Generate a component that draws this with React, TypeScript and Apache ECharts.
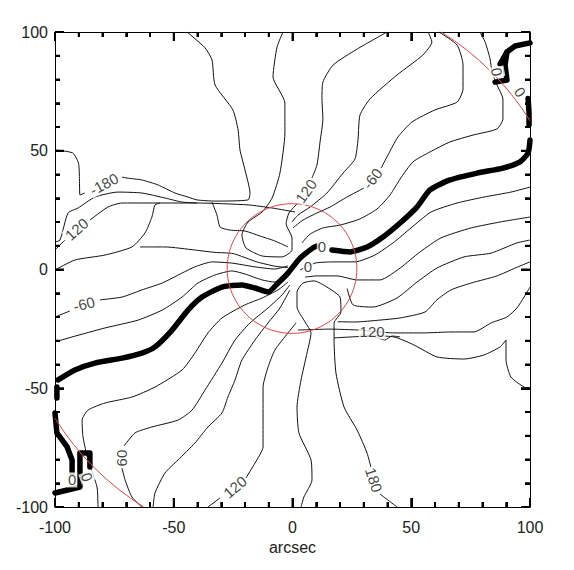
import React, { useEffect, useRef } from 'react';
import * as echarts from 'echarts';

// ---- axes ----
const AXIS_MIN = -100;
const AXIS_MAX = 100;
const AXIS_STEP = 50;
const MINOR_STEP = 10;
const AXIS_NAME = 'arcsec';

// ---- thick zero-level contour pieces (arcsec) ----
const zeroLeft = [[-98.7,-46.5],[-91.6,-42.3],[-83.2,-39.4],[-71.8,-37.3],[-63.4,-35.2],[-57.9,-32.6],[-50.7,-25.5],[-44,-17.1],[-38.1,-11.6],[-29.7,-7.4],[-21.3,-6.5],[-15.8,-7.8],[-10.3,-9.5],[-6.1,-5.7],[-1.9,-1.5],[3.2,4.8],[8.6,9.1],[10.3,9.9]];
const zeroRight = [[16.6,8.2],[24.2,7.4],[31.4,9.5],[38.1,13.7],[45.3,19.6],[52.4,26.3],[57.9,33.5],[66.3,37.7],[77.7,40.6],[88.6,42.7],[95.8,45.3],[99.2,49.1],[100,54.5]];
const zeroNE1 = [[100,95.4],[93.7,94.1],[90.3,91.6],[89.5,86.1],[90.3,79.8],[85.3,78.9]];
const zeroNE2 = [[90.3,91.6],[87.4,86.5]];
const zeroNE3 = [[99.2,72],[99.6,66],[99.6,61]];
const zeroSW1 = [[-100,-60.4],[-99.2,-68.8],[-94.9,-74.7],[-92.8,-80.2],[-92.8,-85.7]];
const zeroSW2 = [[-100,-94.1],[-89.5,-91.6],[-89.5,-77.3],[-85.3,-77.3],[-85.3,-83.2]];
const zeroW = [[-99.2,-49.5],[-99.2,-54.1]];

// ---- thin contours (arcsec) ----
const c180a = [[-100,50.3],[-92.6,49.1],[-90.1,44.8],[-89.7,37.7],[-89.5,31.4],[-87.5,32.2]];
const c180b = [[-71.8,38.9],[-69.7,38.5],[-63.4,37.7],[-56.6,35.6],[-49.5,32.2],[-44,30.5],[-40.2,29.3],[-32.6,28.8],[-18.7,29.3],[-17.9,32.2],[-20,41.9],[-22.1,50.3],[-22.9,58.7],[-25.1,67.2],[-32.6,77.7],[-33.9,88.2],[-36.8,93.3],[-44.4,100]];
const c150 = [[-100,11.6],[-97.9,12.4],[-94.5,23.8],[-90.3,25.9],[-83.2,30.5],[-73.5,32.6],[-63.4,32.2],[-53.7,30.1],[-46.5,28.4],[-40.2,28]];
const c120a = [[-100,8.2],[-95.8,12.4]];
const c120b = [[-85.3,20.8],[-77.7,26.3],[-71.8,28],[-60.8,28],[-40.2,28],[-18.7,27.2],[-8.6,25.9],[1.1,24.2]];
const c90 = [[-100,-0.2],[-91.6,4],[-78.9,6.1],[-67.6,9.5],[-62.1,15.4],[-59.2,22.1],[-57.9,27.2],[-55.8,28]];
const cUa = [[-33.9,28.4],[-31.8,22.9],[-30.5,17.9],[-26.3,16.6],[-20,16.2],[-13.7,14.1],[-7.4,12],[-1.9,9.5]];
const cUb = [[-64.2,9.5],[-53.7,9.5],[-41.1,8.2],[-32.6,7.2],[-25,6.7],[-15,3.2],[-7.4,1.4],[-1.9,0.8]];
const cm60a = [[-100,-20],[-95.8,-18.3],[-93.7,-17.5]];
const cm60b = [[-81.1,-12.8],[-71.8,-11.6],[-63.4,-8.6],[-54.9,-5.7],[-46.5,-1.5],[-41.1,1.1],[-33.9,3.2],[-25.5,2.7],[-15.8,1.1],[-7.4,0.2],[-1.9,1.5]];
const cm30 = [[-100,-30.5],[-92.8,-28.4],[-78.9,-24.6],[-65,-21.3],[-54.9,-17.1],[-46.5,-11.6],[-39.8,-5.7],[-32.6,-2.3],[-25.5,-0.6],[-20,-1.9],[-12.8,-4.4],[-7.4,-5.3],[-1.9,-1.5]];
const cp30 = [[-81.9,-100],[-82.3,-91.6],[-86.1,-80.2],[-88.2,-70.5],[-88.6,-63.4],[-86.1,-59.2],[-78.9,-56.2],[-67.6,-53.7],[-57.9,-49.5],[-46.5,-42.3],[-41.1,-35.2],[-35.6,-26.7],[-29.7,-20.4],[-20,-14.9],[-12.8,-12],[-6.1,-8.6],[-1.9,-5.3]];
const cp60a = [[-63.4,-100],[-67.6,-95.8],[-70.5,-88.6],[-71.8,-83.6]];
const cp60b = [[-70.9,-74.3],[-66.3,-68.8],[-59.2,-66.3],[-48.2,-63.4],[-42.3,-59.2],[-36.8,-50.7],[-29.7,-39.4],[-24.2,-29.7],[-17.9,-22.5],[-10.3,-16.2],[-4.4,-10.7],[-1.1,-6.5]];
const cp90 = [[-58.7,-100],[-57.9,-94.1],[-53.7,-85.7],[-48.2,-80.2],[-41.1,-73.1],[-35.6,-66.3],[-29.7,-60.4],[-27.2,-53.7],[-24.2,-46.5],[-21.3,-38.1],[-15.8,-29.7],[-10.3,-22.5],[-5.3,-16.2],[-1.1,-8.6]];
const cp120a = [[-35.6,-100],[-30.5,-96.2]];
const cp120b = [[-19.6,-87.8],[-15.8,-81.5],[-12.4,-74.7],[-12.4,-63.4],[-12.4,-49.5],[-10.3,-41.1],[-7.4,-33.9],[-1.9,-26.7],[1.5,-22.5]];
const cLowUa = [[3.6,-100],[4.8,-95.8],[8.2,-88.6],[7.8,-80.2],[2.7,-68.8],[1.9,-57.9],[3.6,-46.5],[6.1,-35.2],[7.8,-26.7],[5.3,-22.1],[1.9,-15.8],[1.9,-9.5],[4.4,-5.7],[9.1,-4.8],[14.5,-7.4],[20,-11.6],[20.4,-17.9],[17.5,-22.5],[17.5,-29.7],[18.3,-43.6],[21.7,-57.9],[27.2,-67.6],[31.4,-77.3],[33.1,-83.6]];
const cLowUb = [[36.8,-94.5],[40.2,-97.1],[44,-100]];
const cUpUa = [[-4,100],[-6.5,93.7],[-8.2,81.1],[-3.2,70.1],[-3.2,57.5],[-5.3,40.6],[-8.6,30.1],[-12.8,24.2],[-18.7,20],[-21.3,14.5],[-19.6,9.1],[-12.8,5.7],[-4.4,5.3],[-0.2,8.2],[-0.2,13.3],[-2.7,19.2],[-1.5,23.8],[1.9,27.6]];
const cUpUb = [[8.2,38.5],[10.3,44],[11.6,53.7],[12.8,63.4],[12.4,71.8],[12.8,78.9],[17.1,86.1],[27.2,92.8],[39.8,100]];
const cm90R = [[57.1,100],[58.7,95.8],[54.9,90.3],[44,81.9],[32.6,71.8],[28.4,65],[27.6,54.9],[26.3,46.5],[21.3,40.6],[14.5,32.2],[7.4,26.3],[2.3,22.9],[-0.2,20]];
const cm60Ra = [[61.7,100],[69.3,94.5],[71.8,86.1],[71.8,76],[69.3,70.5],[60,67.2],[50.3,62.1],[44.4,55.8],[40.2,48.2],[37.3,42.7]];
const cm60Rb = [[30.1,34.3],[22.9,30.5],[15.8,26.3],[10.3,23.8],[4.4,20.8],[0.2,17.5]];
const cm30R = [[78.9,100],[81.1,95.8],[83.2,88.6],[84,83.2],[86.1,77.7],[88.6,71.8],[88.6,63.4],[86.1,59.2],[76,56.6],[66.3,53.7],[57.9,49.5],[50.7,45.3],[45.3,38.1],[41.1,31.4],[35.6,25.5],[28.4,21.3],[20,18.7],[12.8,17.5],[7.4,14.9],[4,11.2]];
const cp30R = [[3.2,-0.2],[9.5,2.7],[17.1,3.2],[26.3,3.2],[34.7,6.1],[42.3,11.2],[49.9,17.5],[58.3,24.2],[69.3,28],[80.6,30.5],[92,32.6],[100,34.7]];
const cp60R = [[5.3,-3.2],[10.3,-2.7],[18.7,-2.7],[27.2,-4.4],[36.8,-4.4],[45.3,0.6],[53.7,7.4],[62.5,13.3],[75.2,17.5],[87.4,20],[100,22.1]];
const cp90R = [[23,-8],[25.5,-14.9],[33.9,-15.8],[44,-12],[52.4,-5.3],[60.8,0.6],[72.2,5.3],[83.6,6.9],[94.5,11.2],[100,12.4]];
const cp120R = [[19,-22],[26.3,-22.1],[36.8,-21.3],[45.3,-20.4],[55.8,-17.9],[60.8,-12.8],[66.7,-8.6],[75.2,-5.7],[86.1,-2.7],[93.7,0.6],[100,3.2]];
const cSEa = [[28.4,-25.5],[42.7,-26.7],[55.4,-26.7],[66.7,-26.3],[76.4,-26.3],[83.6,-22.5],[90.3,-20],[94.5,-16.2],[97.5,-11.6],[100,-7.4]];
const cSEb = [[28.4,-27.6],[42.7,-28.4],[51.2,-31.8],[60.8,-36.8],[72.2,-37.7],[80.6,-36],[87.4,-32.6],[89.9,-29.7],[89.9,-38.1],[92,-45.3],[97.5,-49.5],[100,-49.9]];
const cSEc = [[2.3,-25.5],[15.8,-25.1],[28.4,-25.5]];
const cSEd = [[17.5,-28.8],[24.6,-28.4],[33.1,-28],[38.9,-29.7],[41.9,-28],[45.3,-28.4]];

const thickLines = [zeroLeft, zeroRight, zeroNE1, zeroNE2, zeroNE3, zeroSW1, zeroSW2, zeroW];
const thinLines = [c180a, c180b, c150, c120a, c120b, c90, cUa, cUb, cm60a, cm60b, cm30, cp30, cp60a, cp60b, cp90, cp120a, cp120b, cLowUa, cLowUb, cUpUa, cUpUb, cm90R, cm60Ra, cm60Rb, cm30R, cp30R, cp60R, cp90R, cp120R, cSEa, cSEb, cSEc, cSEd];

// ---- contour labels: text, x, y (arcsec), rotation (deg) ----
const labelTexts = ['-180', '120', '-60', '60', '120', '180', '120', '-60', '120', '0', '0', '0', '0', '0', '0'];
const labelX = [-79.4, -90.9, -87.8, -71.8, -24.2, 34.3, 5.7, 33.6, 33.5, 12.4, 6.5, 86.1, 95.8, -92.8, -86.5];
const labelY = [36, 17, -14.5, -79.4, -91.6, -88.6, 33, 38.3, -26.3, 9.5, 1.1, 83.2, 74.7, -88.6, -87.4];
const labelRot = [28, 42, 14, 90, 40, -72, 55, 52, 0, 0, 0, -80, -55, 0, -70];

// ---- red circles: [centre x, centre y, radius] in arcsec ----
const innerCircle = [-0.2, 0.4, 27.3];
const outerCircle = [0, 0, 118];

const FONT = 'Liberation Sans, Arial, sans-serif';
const GRID = { left: 55, top: 32, right: 44, bottom: 63 };
const MAJOR_TICK_PX = 9;
const MINOR_TICK_PX = 5;

function makeAxis(position: string, showLabel: boolean) {
  return {
    type: 'value',
    position,
    min: AXIS_MIN,
    max: AXIS_MAX,
    interval: AXIS_STEP,
    axisLine: { show: true, onZero: false, lineStyle: { color: '#000', width: 1 } },
    axisTick: { show: true, inside: true, length: MAJOR_TICK_PX, lineStyle: { color: '#000', width: 2 } },
    minorTick: { show: true, splitNumber: 5, length: MINOR_TICK_PX, lineStyle: { color: '#000', width: 2 } },
    splitLine: { show: false },
    axisLabel: { show: showLabel, fontSize: 16, color: '#222', fontFamily: FONT, margin: position === 'left' ? 7 : 12 },
  };
}

// tick positions: [value, isMajor]
const tickData: number[][] = [];
for (let v = AXIS_MIN + MINOR_STEP; v < AXIS_MAX; v += MINOR_STEP) {
  tickData.push([v, v % AXIS_STEP === 0 ? 1 : 0]);
}

export default function App() {
  const ref = useRef<HTMLDivElement>(null);
  useEffect(() => {
    const chart = echarts.init(ref.current!, undefined, { renderer: 'svg' });
    const series: any[] = [];
    thinLines.forEach((d) => {
      series.push({
        type: 'line', data: d, showSymbol: false, symbol: 'none', smooth: 0.2, silent: true,
        lineStyle: { color: '#111', width: 1 }, z: 2,
      });
    });
    thickLines.forEach((d, i) => {
      series.push({
        type: 'line', data: d, showSymbol: false, symbol: 'none', smooth: i < 2 ? 0.2 : 0, silent: true,
        lineStyle: { color: '#000', width: 5.5, cap: 'round', join: 'round' }, z: 3,
      });
    });
    // red circles drawn through the axis scales
    series.push({
      type: 'custom', silent: true, z: 4,
      data: [innerCircle, outerCircle],
      renderItem: (params: any, api: any) => {
        const cx = api.value(0);
        const cy = api.value(1);
        const r = api.value(2);
        const c = api.coord([cx, cy]);
        const rp = api.coord([cx + r, cy])[0] - c[0];
        const st = { stroke: '#e2474b', lineWidth: 1, fill: null };
        if (params.dataIndex === 0) {
          return { type: 'circle', shape: { cx: c[0], cy: c[1], r: rp }, style: st };
        }
        const a1 = Math.acos(AXIS_MAX / r);
        const a2 = Math.asin(AXIS_MAX / r);
        return {
          type: 'group',
          children: [
            { type: 'arc', shape: { cx: c[0], cy: c[1], r: rp, startAngle: -a2, endAngle: -a1, clockwise: true }, style: st },
            { type: 'arc', shape: { cx: c[0], cy: c[1], r: rp, startAngle: -(Math.PI + a2), endAngle: -(Math.PI + a1), clockwise: true }, style: st },
          ],
        };
      },
    });
    // tick marks on all four sides (inside), placed through the axis scales
    series.push({
      type: 'custom', silent: true, z: 10,
      data: tickData,
      renderItem: (params: any, api: any) => {
        const v = api.value(0);
        const len = api.value(1) ? MAJOR_TICK_PX : MINOR_TICK_PX;
        const b = api.coord([v, AXIS_MIN]);
        const t = api.coord([v, AXIS_MAX]);
        const l = api.coord([AXIS_MIN, v]);
        const r = api.coord([AXIS_MAX, v]);
        const st = { stroke: '#000', lineWidth: 2 };
        return {
          type: 'group',
          children: [
            { type: 'line', shape: { x1: b[0], y1: b[1], x2: b[0], y2: b[1] - len }, style: st },
            { type: 'line', shape: { x1: t[0], y1: t[1], x2: t[0], y2: t[1] + len }, style: st },
            { type: 'line', shape: { x1: l[0], y1: l[1], x2: l[0] + len, y2: l[1] }, style: st },
            { type: 'line', shape: { x1: r[0], y1: r[1], x2: r[0] - len, y2: r[1] }, style: st },
          ],
        };
      },
    });
    series.push({
      type: 'scatter', symbolSize: 1, silent: true, z: 5,
      itemStyle: { color: 'rgba(0,0,0,0)' },
      label: { show: true, position: 'inside', formatter: '{b}', fontSize: 15, color: '#111', fontFamily: FONT,
        backgroundColor: '#fff', padding: [0, 1] },
      data: labelTexts.map((t, i) => ({ name: t, value: [labelX[i], labelY[i]], label: { rotate: labelRot[i] } })),
    });

    chart.setOption({
      animation: false,
      grid: GRID,
      xAxis: [
        { ...makeAxis('bottom', true), name: AXIS_NAME, nameLocation: 'middle', nameGap: 31,
          nameTextStyle: { fontSize: 16, color: '#222', fontFamily: FONT } },
        makeAxis('top', false),
      ],
      yAxis: [makeAxis('left', true), makeAxis('right', false)],
      series,
    });
    return () => chart.dispose();
  }, []);
  return <div ref={ref} style={{ position: 'fixed', left: 0, top: 0, width: 574, height: 570, background: '#fff' }} />;
}
